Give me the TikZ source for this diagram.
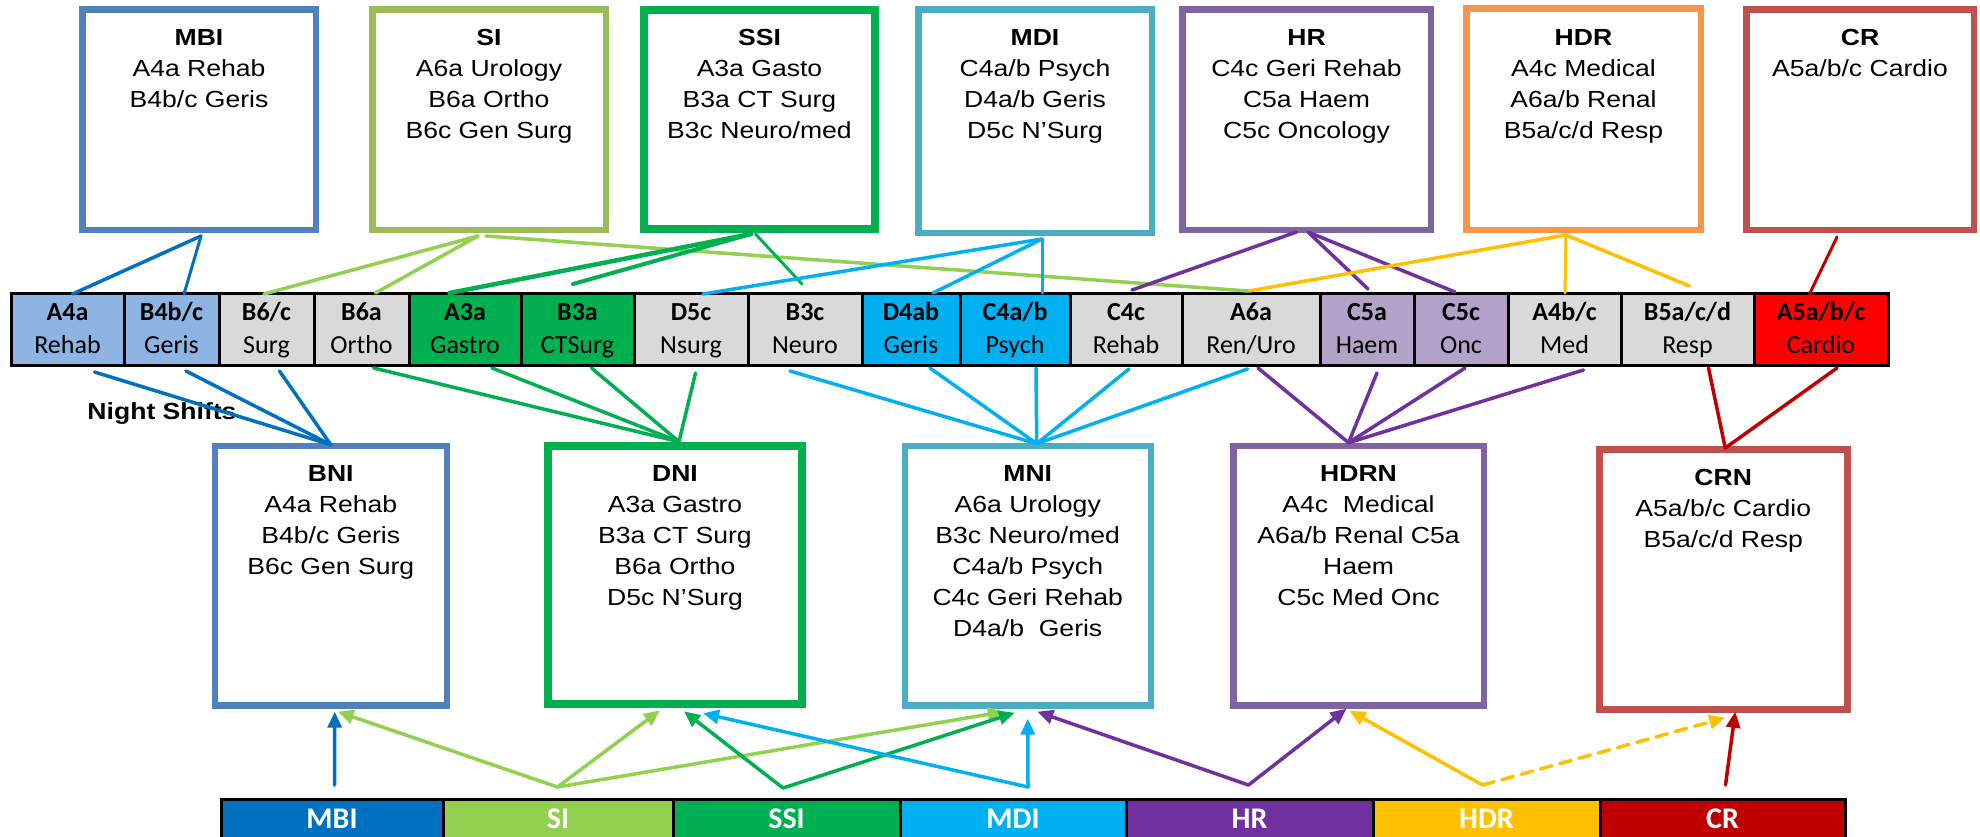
\documentclass[tikz,border=0pt]{standalone}
\usepackage{fontspec}
\setmainfont{Liberation Sans}[FakeStretch=1.14]
\newfontfamily\calfont{Carlito}
\usetikzlibrary{arrows.meta,calc}
\definecolor{bxMBI}{HTML}{4F81BD}
\definecolor{bxSI}{HTML}{9BBB59}
\definecolor{bxSSI}{HTML}{00B050}
\definecolor{bxMDI}{HTML}{4BACC6}
\definecolor{bxHR}{HTML}{8064A2}
\definecolor{bxHDR}{HTML}{F79646}
\definecolor{bxCR}{HTML}{C0504D}
\definecolor{lnMBI}{HTML}{0070C0}
\definecolor{lnSI}{HTML}{92D050}
\definecolor{lnSSI}{HTML}{00B050}
\definecolor{lnMDI}{HTML}{00B0F0}
\definecolor{lnHR}{HTML}{7030A0}
\definecolor{lnHDR}{HTML}{FFC000}
\definecolor{lnCR}{HTML}{C00000}
\definecolor{clBlue}{HTML}{8EB4E3}
\definecolor{clGray}{HTML}{D9D9D9}
\definecolor{clLav}{HTML}{B3A2C7}
\definecolor{clRed}{HTML}{FF0000}
\newcommand\mkcell[6]{\node[cellbox=#4,minimum width=#3pt] (#1) at (#2,329.5) {\rule{0pt}{20pt}\textbf{#5}\\#6\rule[-6pt]{0pt}{6pt}};}
\newcommand\mkbar[5]{\node[barcell=#4,minimum width=#3pt] (#1) at (#2,818.75) {#5};}
\begin{document}
\begin{tikzpicture}[x=1pt,y=-1pt,
  wardbox/.style={draw=#1,line width=6.5pt,fill=white,inner sep=0pt},
  boxtext/.style={anchor=north,inner sep=0pt,align=center,font=\fontsize{23.3}{31}\selectfont},
  cellbox/.style={draw=black,line width=3pt,fill=#1,minimum height=72pt,inner sep=0pt,align=center,font=\calfont\fontsize{26}{33}\selectfont},
  barcell/.style={draw=black,line width=3pt,fill=#1,minimum height=38.5pt,inner sep=0pt,text=white,font=\calfont\bfseries\fontsize{30}{32}\selectfont},
  link/.style={draw=#1,line width=3.5pt,line cap=round},
  arr/.style={draw=#1,line width=3.5pt,line cap=round,-{Triangle[length=16pt,width=14pt]}},
]
\useasboundingbox (0,0) rectangle (1980,836);
\fill[white] (0,0) rectangle (1980,836);

% top boxes
\node[wardbox=bxMBI,minimum width=233.5pt,minimum height=220.5pt] (MBI) at (199,119.5) {};
\node[wardbox=bxSI,minimum width=233.5pt,minimum height=220.5pt] (SI) at (489,119.5) {};
\node[wardbox=bxSSI,line width=8pt,minimum width=231pt,minimum height=219pt] (SSI) at (759.5,119.5) {};
\node[wardbox=bxMDI,minimum width=233.5pt,minimum height=223.5pt] (MDI) at (1035,121) {};
\node[wardbox=bxHR,minimum width=248.5pt,minimum height=220.5pt] (HR) at (1306.5,119.5) {};
\node[wardbox=bxHDR,minimum width=234.5pt,minimum height=221.5pt] (HDR) at (1583.5,119) {};
\node[wardbox=bxCR,minimum width=227.5pt,minimum height=220.5pt] (CR) at (1860,119.5) {};

\node[boxtext] (MBIt) at ($(MBI.north)+(0,19.5)$) {\rule{0pt}{20pt}\textbf{MBI}\\A4a Rehab\\B4b/c Geris};
\node[boxtext] (SIt) at ($(SI.north)+(0,19.5)$) {\rule{0pt}{20pt}\textbf{SI}\\A6a Urology\\B6a Ortho\\B6c Gen Surg};
\node[boxtext] (SSIt) at ($(SSI.north)+(0,19.5)$) {\rule{0pt}{20pt}\textbf{SSI}\\A3a Gasto\\B3a CT Surg\\B3c Neuro/med};
\node[boxtext] (MDIt) at ($(MDI.north)+(0,19.5)$) {\rule{0pt}{20pt}\textbf{MDI}\\C4a/b Psych\\D4a/b Geris\\D5c N’Surg};
\node[boxtext] (HRt) at ($(HR.north)+(0,19.5)$) {\rule{0pt}{20pt}\textbf{HR}\\C4c Geri Rehab\\C5a Haem\\C5c Oncology};
\node[boxtext] (HDRt) at ($(HDR.north)+(0,20.5)$) {\rule{0pt}{20pt}\textbf{HDR}\\A4c Medical\\A6a/b Renal\\B5a/c/d Resp};
\node[boxtext] (CRt) at ($(CR.north)+(0,19.5)$) {\rule{0pt}{20pt}\textbf{CR}\\A5a/b/c Cardio};

% row of cells
\mkcell{cA4a}{67.5}{113}{clBlue}{A4a}{Rehab}
\mkcell{cB4bc}{171.5}{95}{clBlue}{B4b/c}{Geris}
\mkcell{cB6c}{266.5}{95}{clGray}{B6/c}{Surg}
\mkcell{cB6a}{361.5}{95}{clGray}{B6a}{Ortho}
\mkcell{cA3a}{465}{112}{lnSSI}{A3a}{Gastro}
\mkcell{cB3a}{577.5}{113}{lnSSI}{B3a}{CTSurg}
\mkcell{cD5c}{691}{114}{clGray}{D5c}{Nsurg}
\mkcell{cB3c}{805}{114}{clGray}{B3c}{Neuro}
\mkcell{cD4ab}{911}{98}{lnMDI}{D4ab}{Geris}
\mkcell{cC4ab}{1015}{110}{lnMDI}{C4a/b}{Psych}
\mkcell{cC4c}{1126}{112}{clGray}{C4c}{Rehab}
\mkcell{cA6a}{1251}{138}{clGray}{A6a}{Ren/Uro}
\mkcell{cC5a}{1367}{94}{clLav}{C5a}{Haem}
\mkcell{cC5c}{1461}{94}{clLav}{C5c}{Onc}
\mkcell{cA4bc}{1564.5}{113}{clGray}{A4b/c}{Med}
\mkcell{cB5acd}{1687.5}{133}{clGray}{B5a/c/d}{Resp}
\mkcell{cA5abc}{1821}{134}{clRed}{A5a/b/c}{Cardio}

\node[inner sep=0pt,font=\bfseries\fontsize{23.3}{28}\selectfont] (night) at (162,414) {Night Shifts};

% bottom boxes
\node[wardbox=bxMBI,minimum width=232pt,minimum height=259.5pt] (BNI) at (330.75,575.7) {};
\node[wardbox=bxSSI,line width=8pt,minimum width=254pt,minimum height=258.6pt] (DNI) at (675,575) {};
\node[wardbox=bxMDI,minimum width=246pt,minimum height=259.5pt] (MNI) at (1027.75,575.7) {};
\node[wardbox=bxHR,minimum width=250.5pt,minimum height=259.5pt] (HDRN) at (1358.5,575.7) {};
\node[wardbox=bxCR,minimum width=248pt,minimum height=260.2pt] (CRN) at (1723.25,579.35) {};

\node[boxtext] (BNIt) at ($(BNI.north)+(0,19)$) {\rule{0pt}{20pt}\textbf{BNI}\\A4a Rehab\\B4b/c Geris\\B6c Gen Surg};
\node[boxtext] (DNIt) at ($(DNI.north)+(0,19.8)$) {\rule{0pt}{20pt}\textbf{DNI}\\A3a Gastro\\B3a CT Surg\\B6a Ortho\\D5c N’Surg};
\node[boxtext] (MNIt) at ($(MNI.north)+(0,19)$) {\rule{0pt}{20pt}\textbf{MNI}\\A6a Urology\\B3c Neuro/med\\C4a/b Psych\\C4c Geri Rehab\\D4a/b~~Geris};
\node[boxtext] (HDRNt) at ($(HDRN.north)+(0,19)$) {\rule{0pt}{20pt}\textbf{HDRN}\\A4c~~Medical\\A6a/b Renal C5a\\Haem\\C5c Med Onc};
\node[boxtext] (CRNt) at ($(CRN.north)+(0,19.5)$) {\rule{0pt}{20pt}\textbf{CRN}\\A5a/b/c Cardio\\B5a/c/d Resp};

% bottom bar
\mkbar{bMBI}{332}{222}{lnMBI}{MBI}
\mkbar{bSI}{558}{230}{lnSI}{SI}
\mkbar{bSSI}{786.5}{227}{lnSSI}{SSI}
\mkbar{bMDI}{1013}{226}{lnMDI}{MDI}
\mkbar{bHR}{1249.5}{247}{lnHR}{HR}
\mkbar{bHDR}{1486.5}{227}{lnHDR}{HDR}
\mkbar{bCR}{1722.5}{245}{lnCR}{CR}

% top boxes to cells
\draw[link=lnMBI] ($(MBI.south)+(2,3)$) -- ($(cA4a.north)+(5,2)$);
\draw[link=lnMBI,line width=3pt] ($(MBI.south)+(2,3)$) -- ($(cB4bc.north)+(12.5,2)$);
\draw[link=lnSI] ($(SI.south)+(-11,3)$) -- ($(cB6c.north)+(-2.5,2)$);
\draw[link=lnSI] ($(SI.south)+(-11,3)$) -- ($(cB6a.north)+(14,1)$);
\draw[link=lnSI] ($(SI.south)+(-3,3)$) -- ($(cA6a.north)+(-3,-1)$);
\draw[link=lnSSI,line width=4.5pt] ($(SSI.south)+(-8.5,1)$) -- ($(cA3a.north)+(-15.5,1)$);
\draw[link=lnSSI,line width=4pt] ($(SSI.south)+(-8.5,1)$) -- ($(cB3a.north)+(-4.5,-8)$);
\draw[link=lnSSI,line width=3pt] ($(SSI.south)+(-4,1)$) -- ($(cB3c.north)+(-3,-8)$);
\draw[link=lnMDI] ($(MDI.south)+(7,3)$) -- ($(cD5c.north)+(12,2)$);
\draw[link=lnMDI] ($(MDI.south)+(7,3)$) -- ($(cD4ab.north)+(22,1)$);
\draw[link=lnMDI,line width=3pt] ($(MDI.south)+(7,3)$) -- ($(cC4ab.north)+(27,1)$);
\draw[link=lnHR] ($(HR.south)+(-10,-1)$) -- ($(cC4c.north)+(6,-2)$);
\draw[link=lnHR] ($(HR.south)+(1.5,-1)$) -- ($(cC5a.north)+(1,-3)$);
\draw[link=lnHR] ($(HR.south)+(1.5,-1)$) -- ($(cC5c.north)+(-6,0)$);
\draw[link=lnHDR] ($(HDR.south)+(-17.5,2)$) -- ($(cA6a.north)+(-2,-1)$);
\draw[link=lnHDR,line width=3pt] ($(HDR.south)+(-17.5,2)$) -- ($(cA4bc.north)+(0.5,1)$);
\draw[link=lnHDR] ($(HDR.south)+(-17.5,2)$) -- ($(cB5acd.north)+(2,-6)$);
\draw[link=lnCR,line width=3pt] ($(CR.south)+(-23,4)$) -- ($(cA5abc.north)+(-11.5,2)$);

% cells to night boxes
\draw[link=lnMBI] ($(cA4a.south)+(27,5)$) -- ($(BNI.north)+(0,2)$);
\draw[link=lnMBI] ($(cB4bc.south)+(14.5,4)$) -- ($(BNI.north)+(0,2)$);
\draw[link=lnMBI] ($(cB6c.south)+(13,4)$) -- ($(BNI.north)+(0,2)$);
\draw[link=lnSSI] ($(cB6a.south)+(12,1)$) -- ($(DNI.north)+(4,0)$);
\draw[link=lnSSI] ($(cA3a.south)+(27,1)$) -- ($(DNI.north)+(4,0)$);
\draw[link=lnSSI] ($(cB3a.south)+(14,1)$) -- ($(DNI.north)+(4,0)$);
\draw[link=lnSSI] ($(cD5c.south)+(4.5,6)$) -- ($(DNI.north)+(4,0)$);
\draw[link=lnMDI] ($(cB3c.south)+(-15,4)$) -- ($(MNI.north)+(9,1)$);
\draw[link=lnMDI] ($(cD4ab.south)+(19,1)$) -- ($(MNI.north)+(9,1)$);
\draw[link=lnMDI] ($(cC4ab.south)+(21,1)$) -- ($(MNI.north)+(9,1)$);
\draw[link=lnMDI] ($(cC4c.south)+(3,2)$) -- ($(MNI.north)+(9,1)$);
\draw[link=lnMDI] ($(cA6a.south)+(-3.5,2)$) -- ($(MNI.north)+(9,1)$);
\draw[link=lnHR] ($(cA6a.south)+(7,1)$) -- ($(HDRN.north)+(-10,0)$);
\draw[link=lnHR] ($(cC5a.south)+(10,6)$) -- ($(HDRN.north)+(-10,0)$);
\draw[link=lnHR] ($(cC5c.south)+(4,1)$) -- ($(HDRN.north)+(-10,0)$);
\draw[link=lnHR] ($(cA4bc.south)+(19,3)$) -- ($(HDRN.north)+(-10,0)$);
\draw[link=lnCR] ($(cB5acd.south)+(21,1)$) -- ($(CRN.north)+(2,2)$);
\draw[link=lnCR] ($(cA5abc.south)+(16,1)$) -- ($(CRN.north)+(2,2)$);

% bar to night boxes
\draw[arr=lnMBI] ($(bMBI.north)+(2.5,-13)$) -- ($(BNI.south)+(4,3)$);
\draw[arr=lnSI] ($(bSI.north)+(-0.5,-11)$) -- ($(BNI.south)+(7,3)$);
\draw[arr=lnSI] ($(bSI.north)+(-0.5,-11)$) -- ($(DNI.south)+(-15,2)$);
\draw[arr=lnSI] ($(bSI.north)+(-0.5,-11)$) -- ($(MNI.south)+(-24,3)$);
\draw[arr=lnSSI] ($(bSSI.north)+(-3.5,-10)$) -- ($(DNI.south)+(9,3)$);
\draw[arr=lnSSI] ($(bSSI.north)+(-3.5,-10)$) -- ($(MNI.south)+(-13,4)$);
\draw[arr=lnMDI] ($(bMDI.north)+(15,-11)$) -- ($(MNI.south)+(0,10)$);
\draw[arr=lnMDI] ($(bMDI.north)+(15,-11)$) -- ($(DNI.south)+(28,5)$);
\draw[arr=lnHR] ($(bHR.north)+(-1,-13)$) -- ($(MNI.south)+(9.5,3)$);
\draw[arr=lnHR] ($(bHR.north)+(-1,-13)$) -- ($(HDRN.south)+(-12,0)$);
\draw[arr=lnHDR] ($(bHDR.north)+(-4,-13)$) -- ($(HDRN.south)+(-9,2)$);
\draw[arr=lnHDR,dash pattern=on 12pt off 8pt] ($(bHDR.north)+(-4,-13)$) -- ($(CRN.south)+(2,5)$);
\draw[arr=lnCR] ($(bCR.north)+(3,-13)$) -- ($(CRN.south)+(12,-1)$);
\end{tikzpicture}
\end{document}
